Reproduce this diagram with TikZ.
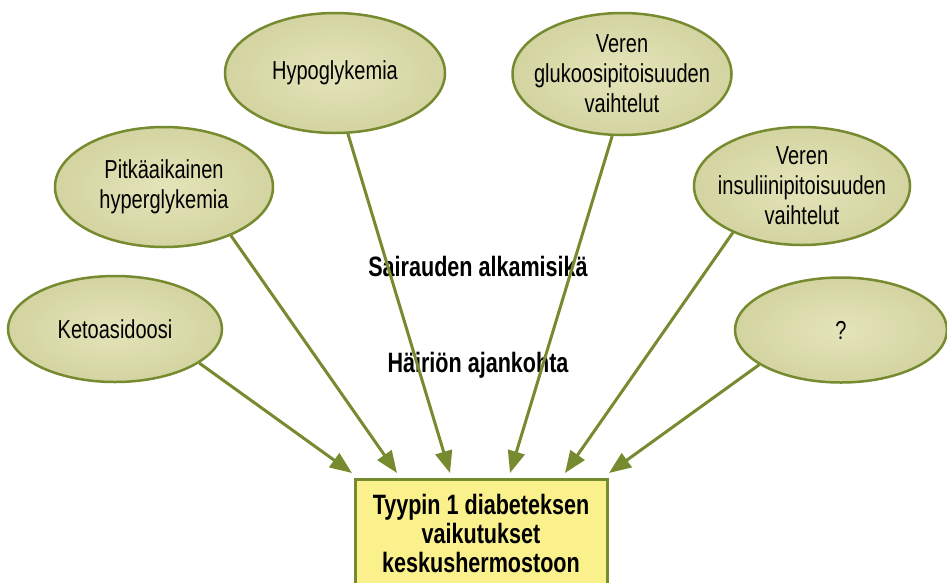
\documentclass[tikz,border=0pt]{standalone}
\usepackage{fontspec}
\setmainfont{Liberation Sans}[FakeStretch=0.77]
\usepackage{xcolor}
\usepackage{tikz}
\usetikzlibrary{positioning}
\usetikzlibrary{shapes.geometric, arrows.meta}
\definecolor{leafgreen}{HTML}{768B2F}
\definecolor{ellinner}{HTML}{E4E4BA}
\definecolor{ellouter}{HTML}{C3C488}
\definecolor{boxyellow}{HTML}{FAF08C}
\pgfdeclareradialshading{ellglow}{\pgfpoint{0bp}{0bp}}{color(0bp)=(ellinner); color(50bp)=(ellouter)}
\tikzstyle{effect} = [ellipse, draw=leafgreen, line width=2.5pt, shading=ellglow, inner sep=0pt, align=center, font=\fontsize{26}{30}\selectfont]
\tikzstyle{target} = [rectangle, draw=leafgreen, line width=3pt, fill=boxyellow, minimum width=252pt, minimum height=107pt, align=center, font=\bfseries\fontsize{28}{29}\selectfont]
\tikzstyle{factor} = [font=\bfseries\fontsize{28}{30}\selectfont]
\tikzstyle{arrow} = [leafgreen, line width=3pt, -{Triangle[length=22pt,width=17pt]}]

\begin{document}
\begin{tikzpicture}[x=1pt, y=-1pt]
    \useasboundingbox (0,0) rectangle (947,582);
    % Nodes
    \node (keto) [effect, minimum width=214pt, minimum height=106pt] at (115,329) {Ketoasidoosi};
    \node (pitka) [effect, minimum width=218pt, minimum height=120pt] at (164,187) {Pitkäaikainen\\hyperglykemia};
    \node (hypo) [effect, minimum width=220pt, minimum height=120pt] at (335,73) {Hypoglykemia};
    \node (gluk) [effect, inner xsep=-12pt, inner ysep=-4pt, minimum width=219pt, minimum height=122pt] at (622,74) {Veren\\glukoosipitoisuuden\\vaihtelut};
    \node (insul) [effect, inner xsep=-12pt, inner ysep=-4pt, minimum width=216pt, minimum height=118pt] at (802,186) {Veren\\insuliinipitoisuuden\\vaihtelut};
    \node (quest) [effect, minimum width=212pt, minimum height=105pt] at (841,330) {?};
    \node (cns) [target, anchor=north] at (481,478) {Tyypin 1 diabeteksen\\vaikutukset\\keskushermostoon};
    \node (onset) [factor] at (478,266) {Sairauden alkamisikä};
    \node (timing) [factor] at (478,365) {Häiriön ajankohta};
    % Arrow ends on the box
    \coordinate (t1) at ([xshift=-129pt, yshift=5pt]cns.north);
    \coordinate (t2) at ([xshift=-84pt, yshift=5pt]cns.north);
    \coordinate (t3) at ([xshift=-31pt, yshift=5pt]cns.north);
    \coordinate (t4) at ([xshift=29pt, yshift=5pt]cns.north);
    \coordinate (t5) at ([xshift=84pt, yshift=5pt]cns.north);
    \coordinate (t6) at ([xshift=128pt, yshift=5pt]cns.north);
    % Arrows
    \draw [arrow] (keto.-22) -- (t1);
    \draw [arrow] (pitka.-36) -- (t2);
    \draw [arrow] (hypo.-78) -- (t3);
    \draw [arrow] (gluk.-99) -- (t4);
    \draw [arrow] (insul.214) -- (t5);
    \draw [arrow] (quest.203) -- (t6);
\end{tikzpicture}
\end{document}
